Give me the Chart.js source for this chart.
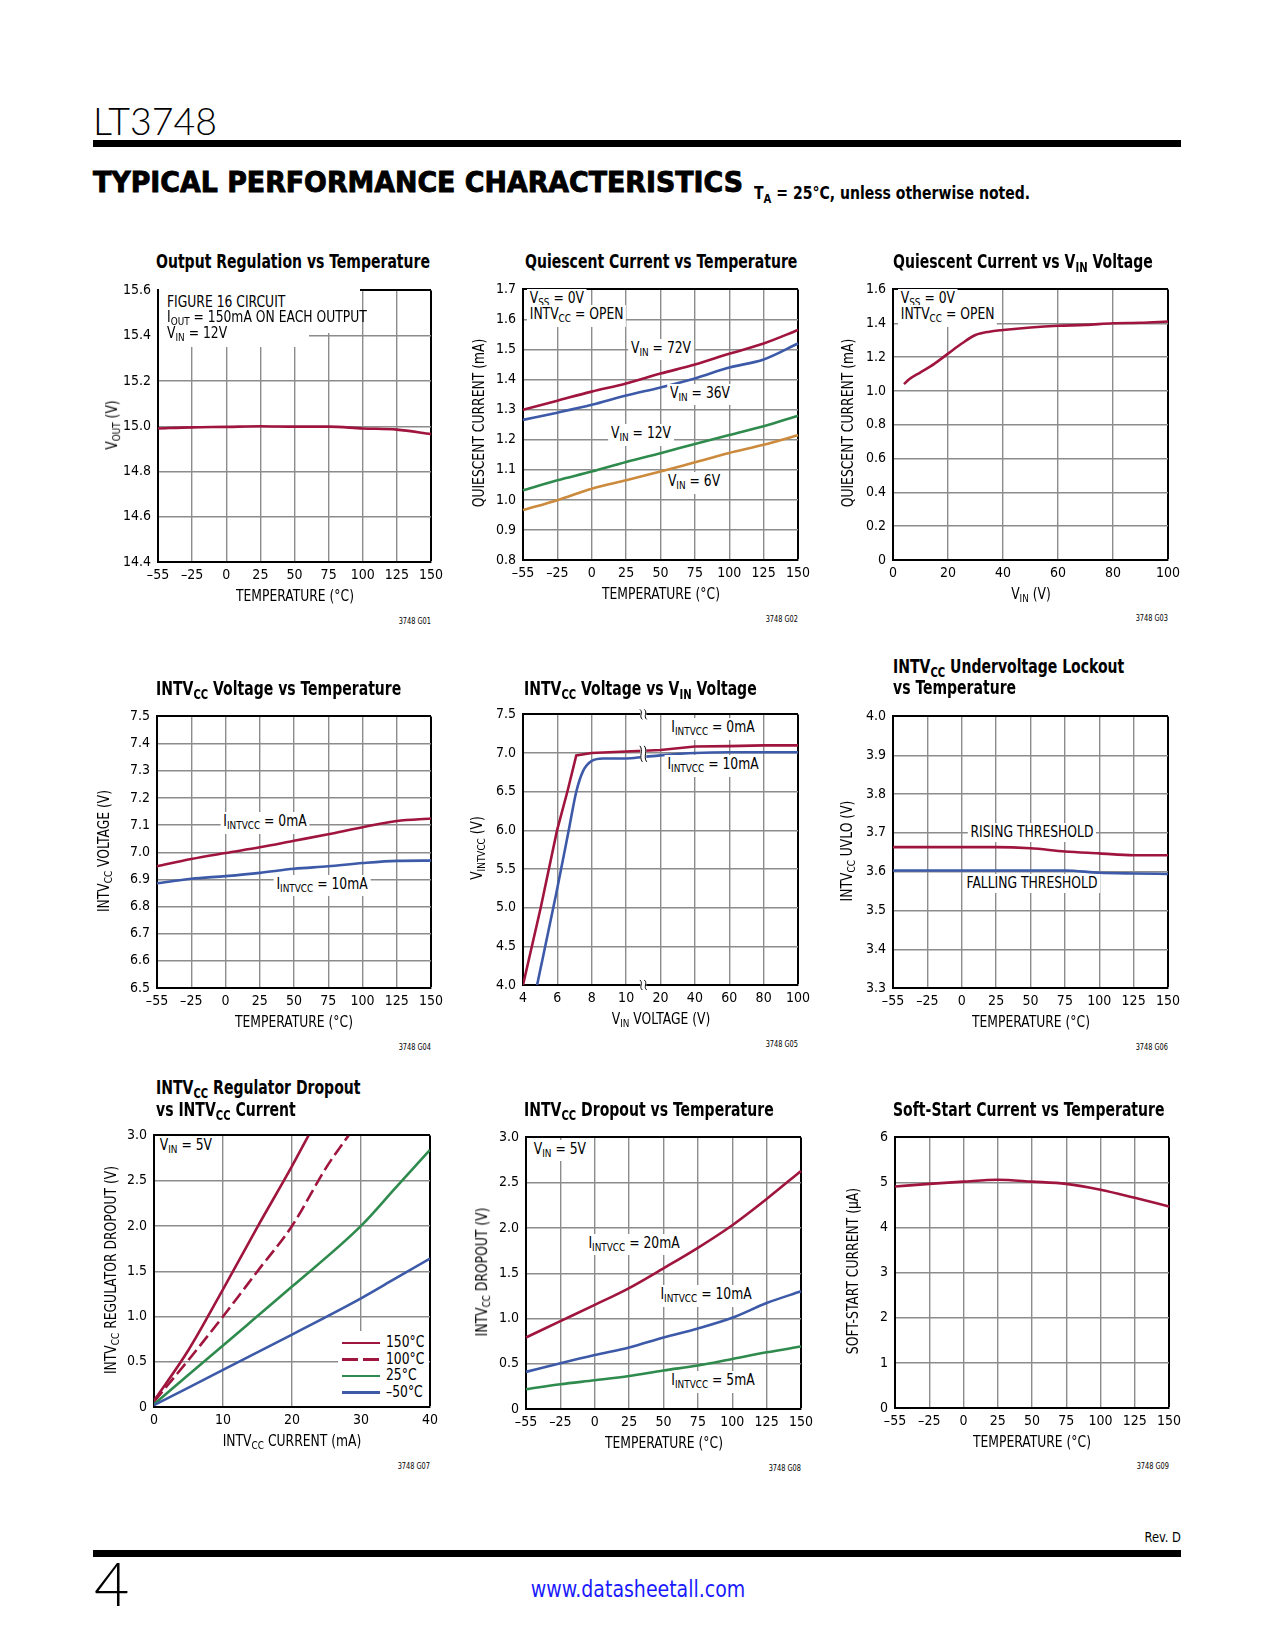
<!DOCTYPE html>
<html>
<head>
<meta charset="utf-8">
<title>LT3748 Typical Performance Characteristics</title>
<script src="https://cdn.jsdelivr.net/npm/chart.js@4.4.1/dist/chart.umd.min.js"></script>
<style>
  html, body { margin: 0; padding: 0; background: #fff; }
  #page {
    position: relative; width: 1275px; height: 1650px; overflow: hidden;
    font-family: "Liberation Sans Narrow", "Arial Narrow", "DejaVu Sans Condensed", sans-serif;
    color: #000;
  }
  .t { position: absolute; white-space: nowrap; line-height: 1; }
  .t sub { font-size: 0.72em; vertical-align: -0.28em; line-height: 1; }
  .blk { position: absolute; }
</style>
</head>
<body>
<div id="page"></div>
<script>
// ---- data ----
const TEMP_LABELS = ['–55', '–25', '0', '25', '50', '75', '100', '125', '150'];

// output regulation vs temperature
const VOUT = [14.99, 14.995, 14.997, 15.0, 14.998, 14.998, 14.99, 14.985, 14.965];

// quiescent current vs temperature (mA)
const IQ_72V = [1.30, 1.33, 1.36, 1.387, 1.42, 1.45, 1.486, 1.52, 1.565];
const IQ_36V = [1.266, 1.29, 1.316, 1.347, 1.374, 1.404, 1.44, 1.467, 1.52];
const IQ_12V = [1.032, 1.065, 1.094, 1.126, 1.155, 1.186, 1.216, 1.245, 1.28];
const IQ_6V = [0.966, 0.999, 1.037, 1.065, 1.094, 1.125, 1.156, 1.183, 1.215];

// quiescent current vs VIN
const VIN_SWEEP = [4, 6, 10, 15, 20, 25, 30, 35, 40, 50, 60, 70, 80, 90, 100];
const IQ_VS_VIN = [1.04, 1.07, 1.11, 1.16, 1.22, 1.28, 1.33, 1.35, 1.36, 1.375, 1.385, 1.39, 1.40, 1.403, 1.41];

// INTVCC voltage vs temperature
const INTVCC_0MA = [6.948, 6.975, 6.997, 7.018, 7.042, 7.066, 7.092, 7.115, 7.124];
const INTVCC_10MA = [6.885, 6.902, 6.912, 6.924, 6.939, 6.948, 6.96, 6.968, 6.969];

// INTVCC voltage vs VIN (broken axis: 4-10V, then 10-100V)
const VIN_TICKS = ['4', '6', '8', '10', '20', '40', '60', '80', '100'];
const LOW_VIN_0MA = [4, 5.03, 5.98, 6.58, 7.1, 8, 10];
const LOW_V_0MA = [4.0, 5.0, 6.0, 6.5, 6.97, 7.0, 7.02];
const LOW_VIN_10MA = [4.82, 5.94, 6.66, 7.1, 7.5, 8, 8.66, 10];
const LOW_V_10MA = [4.0, 5.19, 6.0, 6.5, 6.77, 6.9, 6.93, 6.93];
const HIGH_VIN = [10, 20, 40, 60, 80, 100];
const HIGH_V_0MA = [7.03, 7.04, 7.085, 7.09, 7.10, 7.10];
const HIGH_V_10MA = [6.95, 6.97, 7.0, 7.01, 7.01, 7.01];

// UVLO thresholds
const UVLO_RISE = [3.663, 3.663, 3.663, 3.663, 3.66, 3.652, 3.647, 3.642, 3.642];
const UVLO_FALL = [3.603, 3.603, 3.603, 3.603, 3.603, 3.603, 3.597, 3.595, 3.594];

// regulator dropout vs INTVCC current
const I_150C = [0, 5, 10, 15, 20, 22.4];
const DROP_150C = [0.07, 0.63, 1.3, 1.99, 2.66, 3.0];
const I_100C = [0, 5, 10, 15, 20, 25, 28.2];
const DROP_100C = [0.06, 0.52, 1.0, 1.5, 2.0, 2.65, 3.0];
const I_LOAD = [0, 10, 20, 30, 35, 40];
const DROP_25C = [0.03, 0.68, 1.33, 2.0, 2.42, 2.84];
const DROP_M50C = [0.02, 0.41, 0.8, 1.2, 1.42, 1.64];

// dropout vs temperature
const DROP_20MA = [0.79, 0.97, 1.15, 1.336, 1.554, 1.78, 2.03, 2.32, 2.63];
const DROP_10MA = [0.41, 0.506, 0.597, 0.68, 0.79, 0.89, 1.008, 1.17, 1.30];
const DROP_5MA = [0.218, 0.273, 0.317, 0.364, 0.426, 0.48, 0.553, 0.626, 0.69];

// soft-start current (uA)
const SS_CURRENT = [4.91, 4.97, 5.02, 5.06, 5.02, 4.97, 4.84, 4.66, 4.47];

// ---- styling ----
const NARROW = '"Liberation Sans Narrow", "Arial Narrow", "DejaVu Sans Condensed", sans-serif';
const HEAD = '"DejaVu Sans", sans-serif';
const RED = '#a0153e', BLUE = '#3d5aa9', GREEN = '#2f8b4d', ORANGE = '#cc8a3c';
const GRID = '#8c8c8c';
const PADL = 50, PADT = 12, PADR = 24, PADB = 30;

const page = document.getElementById('page');

// no narrow face is installed, so squeeze text horizontally to the datasheet widths
const mctx = document.createElement('canvas').getContext('2d');
const textW = (s, font) => { mctx.font = font; return mctx.measureText(s).width; };
const F_BOLD = 274 / textW('Output Regulation vs Temperature', 'bold 20px ' + NARROW);
const F_REG = 118 / textW('TEMPERATURE (°C)', '15px ' + NARROW);
const F_HEAD = 650 / textW('TYPICAL PERFORMANCE CHARACTERISTICS', 'bold 28px ' + HEAD);
const F_NOTE = 278 / textW('TA = 25°C, unless otherwise noted.', 'bold 18px ' + NARROW);

function put(html, x, y, o = {}) {
  const size = o.size || 15;
  const pad = o.bg ? 2 : 0;
  const f = o.f || (o.weight === 'bold' ? F_BOLD : F_REG);
  const d = document.createElement('div');
  d.className = 't';
  d.innerHTML = html;
  d.style.fontSize = size + 'px';
  d.style.fontWeight = o.weight || 'normal';
  if (o.family) d.style.fontFamily = o.family;
  if (o.color) d.style.color = o.color;
  if (o.stroke) d.style.webkitTextStroke = o.stroke;
  if (o.bg) { d.style.background = '#fff'; d.style.padding = pad + 'px 3px'; }
  const align = o.align || 'left';
  const shift = align === 'center' ? -50 : align === 'right' ? -100 : 0;
  let left = x;
  if (o.bg && align === 'left') left = x - 3 * f;
  if (o.bg && align === 'right') left = x + 3 * f;
  d.style.left = left + 'px';
  d.style.top = (y - (o.asc || 0.85) * size - pad) + 'px';
  d.style.transformOrigin = align + ' center';
  d.style.transform = 'translateX(' + shift + '%) scaleX(' + f + ')';
  page.appendChild(d);
  return d;
}

function rot(html, cx, cy, size = 15) {
  const d = document.createElement('div');
  d.className = 't';
  d.innerHTML = html;
  d.style.fontSize = size + 'px';
  d.style.left = cx + 'px';
  d.style.top = cy + 'px';
  d.style.transform = 'translate(-50%,-50%) rotate(-90deg) scaleX(' + F_REG + ')';
  page.appendChild(d);
}

function rect(l, t, w, h, bg) {
  const d = document.createElement('div');
  d.className = 'blk';
  d.style.cssText += `left:${l}px;top:${t}px;width:${w}px;height:${h}px;background:${bg};`;
  page.appendChild(d);
  return d;
}

const isLast = c => c.index === c.scale.ticks.length - 1;

function axis(which, extra = {}, tickExtra = {}) {
  return Object.assign({
    grid: {
      color: c => isLast(c) ? '#000' : GRID,
      lineWidth: c => isLast(c) ? 2 : 1.4,
      drawTicks: false,
    },
    border: { color: '#000', width: 2 },
    ticks: Object.assign({
      color: '#000',
      font: { family: NARROW, size: 14 },
      padding: which === 'x' ? 5 : 7,
      maxRotation: 0,
      autoSkip: false,
    }, tickExtra),
    afterFit: s => { if (which === 'x') s.height = PADB; else s.width = PADL; },
  }, extra);
}

const dec1 = v => Math.abs(v) < 1e-9 ? '0' : v.toFixed(1);

function plot(box, cfg) {
  const w = box.r - box.l, h = box.b - box.t;
  const wrap = document.createElement('div');
  wrap.style.cssText = `position:absolute;left:${box.l - PADL}px;top:${box.t - PADT}px;` +
    `width:${w + PADL + PADR}px;height:${h + PADT + PADB}px;`;
  const cv = document.createElement('canvas');
  wrap.appendChild(cv);
  page.appendChild(wrap);
  cfg.options = Object.assign({
    responsive: true,
    maintainAspectRatio: false,
    animation: false,
    layout: { padding: { top: PADT, right: PADR, left: 0, bottom: 0 } },
    elements: { point: { radius: 0 }, line: { borderWidth: 2.6, cubicInterpolationMode: 'monotone' } },
  }, cfg.options);
  cfg.options.plugins = { legend: { display: false }, tooltip: { enabled: false } };
  return new Chart(cv, cfg);
}

const line = (data, color, extra = {}) => Object.assign({ data, borderColor: color, fill: false }, extra);
const xy = (xs, ys, f = v => v) => xs.map((v, i) => ({ x: f(v), y: ys[i] }));

// ---- plot boxes (page pixels) ----
const B1 = { l: 158, r: 431, t: 287, b: 562 };
const B2 = { l: 523, r: 798, t: 286, b: 560 };
const B3 = { l: 893, r: 1168, t: 286, b: 560 };
const B4 = { l: 157, r: 431, t: 713, b: 988 };
const B5 = { l: 523, r: 798, t: 711, b: 985 };
const B6 = { l: 893, r: 1168, t: 713, b: 988 };
const B7 = { l: 154, r: 430, t: 1132, b: 1407 };
const B8 = { l: 526, r: 801, t: 1134, b: 1409 };
const B9 = { l: 895, r: 1169, t: 1134, b: 1408 };

// 1. Output regulation
plot(B1, {
  type: 'line',
  data: { labels: TEMP_LABELS, datasets: [line(VOUT, RED)] },
  options: { scales: { x: axis('x'), y: axis('y', { min: 14.4, max: 15.6 }, { stepSize: 0.2, callback: dec1 }) } },
});

// 2. Quiescent current vs temperature
plot(B2, {
  type: 'line',
  data: {
    labels: TEMP_LABELS,
    datasets: [line(IQ_72V, RED), line(IQ_36V, BLUE), line(IQ_12V, GREEN), line(IQ_6V, ORANGE)],
  },
  options: { scales: { x: axis('x'), y: axis('y', { min: 0.8, max: 1.7 }, { stepSize: 0.1, callback: dec1 }) } },
});

// 3. Quiescent current vs VIN
plot(B3, {
  type: 'line',
  data: { datasets: [line(xy(VIN_SWEEP, IQ_VS_VIN), RED)] },
  options: {
    scales: {
      x: axis('x', { type: 'linear', min: 0, max: 100 }, { stepSize: 20 }),
      y: axis('y', { min: 0, max: 1.6 }, { stepSize: 0.2, callback: dec1 }),
    },
  },
});

// 4. INTVCC voltage vs temperature
plot(B4, {
  type: 'line',
  data: { labels: TEMP_LABELS, datasets: [line(INTVCC_0MA, RED), line(INTVCC_10MA, BLUE)] },
  options: { scales: { x: axis('x'), y: axis('y', { min: 6.5, max: 7.5 }, { stepSize: 0.1, callback: dec1 }) } },
});

// 5. INTVCC voltage vs VIN, broken x axis
const lowPos = v => (v - 4) / 2;        // 4..10 V side of the break
const highPos = v => 4 + (v - 20) / 20; // 10..100 V side
const breakMarks = {
  id: 'breakMarks',
  afterDatasetsDraw(chart) {
    const { ctx, chartArea, scales } = chart;
    const x = scales.x.getPixelForValue(3.5);
    [[chartArea.top, 5], [scales.y.getPixelForValue(6.99), 8], [chartArea.bottom, 5]].forEach(([y, hh]) => {
      ctx.save();
      ctx.fillStyle = '#fff';
      ctx.fillRect(x - 3, y - hh, 6, hh * 2);
      ctx.strokeStyle = '#000';
      ctx.lineWidth = 1;
      [-2.2, 2.2].forEach(dx => {
        ctx.beginPath();
        ctx.moveTo(x + dx - 1.2, y - hh);
        ctx.bezierCurveTo(x + dx + 2.6, y - hh / 3, x + dx - 2.6, y + hh / 3, x + dx + 1.2, y + hh);
        ctx.stroke();
      });
      ctx.restore();
    });
  },
};
plot(B5, {
  type: 'line',
  data: {
    datasets: [
      line(xy(LOW_VIN_0MA, LOW_V_0MA, lowPos).concat(xy(HIGH_VIN, HIGH_V_0MA, highPos)), RED,
        { cubicInterpolationMode: 'default', tension: 0 }),
      line(xy(LOW_VIN_10MA, LOW_V_10MA, lowPos).concat(xy(HIGH_VIN, HIGH_V_10MA, highPos)), BLUE),
    ],
  },
  options: {
    scales: {
      x: axis('x', { type: 'linear', min: 0, max: 8 }, { stepSize: 1, callback: v => VIN_TICKS[v] ?? '' }),
      y: axis('y', { min: 4.0, max: 7.5 }, { stepSize: 0.5, callback: dec1 }),
    },
  },
  plugins: [breakMarks],
});

// 6. UVLO vs temperature
plot(B6, {
  type: 'line',
  data: { labels: TEMP_LABELS, datasets: [line(UVLO_RISE, RED), line(UVLO_FALL, BLUE)] },
  options: { scales: { x: axis('x'), y: axis('y', { min: 3.3, max: 4.0 }, { stepSize: 0.1, callback: dec1 }) } },
});

// 7. Regulator dropout vs INTVCC current
plot(B7, {
  type: 'line',
  data: {
    datasets: [
      line(xy(I_LOAD, DROP_M50C), BLUE),
      line(xy(I_LOAD, DROP_25C), GREEN),
      line(xy(I_100C, DROP_100C), RED, { borderDash: [13, 5] }),
      line(xy(I_150C, DROP_150C), RED),
    ],
  },
  options: {
    scales: {
      x: axis('x', { type: 'linear', min: 0, max: 40 }, { stepSize: 10 }),
      y: axis('y', { min: 0, max: 3 }, { stepSize: 0.5, callback: dec1 }),
    },
  },
});

// 8. Dropout vs temperature
plot(B8, {
  type: 'line',
  data: { labels: TEMP_LABELS, datasets: [line(DROP_20MA, RED), line(DROP_10MA, BLUE), line(DROP_5MA, GREEN)] },
  options: { scales: { x: axis('x'), y: axis('y', { min: 0, max: 3 }, { stepSize: 0.5, callback: dec1 }) } },
});

// 9. Soft-start current
plot(B9, {
  type: 'line',
  data: { labels: TEMP_LABELS, datasets: [line(SS_CURRENT, RED)] },
  options: { scales: { x: axis('x'), y: axis('y', { min: 0, max: 6 }, { stepSize: 1 }) } },
});

// ---- page header ----
put('LT3748', 93, 135, { size: 37.5, family: 'Lato', weight: 300, asc: 0.89, f: 1 });
rect(93, 140, 1088, 7, '#000');
put('TYPICAL PERFORMANCE CHARACTERISTICS', 93, 193,
  { size: 28, weight: 'bold', family: HEAD, f: F_HEAD, stroke: '0.9px #000' });
put('T<sub>A</sub> = 25°C, unless otherwise noted.', 754, 199, { size: 18, weight: 'bold', f: F_NOTE });

// ---- chart titles ----
const TB = { size: 20, weight: 'bold' };
put('Output Regulation vs Temperature', 156, 268.3, TB);
put('Quiescent Current vs Temperature', 525, 268.3, TB);
put('Quiescent Current vs V<sub>IN</sub> Voltage', 893, 268.3, TB);
put('INTV<sub>CC</sub> Voltage vs Temperature', 156, 694.5, TB);
put('INTV<sub>CC</sub> Voltage vs V<sub>IN</sub> Voltage', 523.5, 694.5, TB);
put('INTV<sub>CC</sub> Undervoltage Lockout', 893, 672.7, TB);
put('vs Temperature', 893, 694, TB);
put('INTV<sub>CC</sub> Regulator Dropout', 156, 1093.7, TB);
put('vs INTV<sub>CC</sub> Current', 156, 1115.7, TB);
put('INTV<sub>CC</sub> Dropout vs Temperature', 523.5, 1115.5, TB);
put('Soft-Start Current vs Temperature', 893, 1115.5, TB);

// ---- axis titles ----
const C = { align: 'center' };
const mid = b => (b.l + b.r) / 2, vmid = b => (b.t + b.b) / 2;
put('TEMPERATURE (°C)', mid(B1), B1.b + 40, C);
put('TEMPERATURE (°C)', mid(B2), B2.b + 40, C);
put('V<sub>IN</sub> (V)', mid(B3), B3.b + 40, C);
put('TEMPERATURE (°C)', mid(B4), B4.b + 40, C);
put('V<sub>IN</sub> VOLTAGE (V)', mid(B5), B5.b + 40, C);
put('TEMPERATURE (°C)', mid(B6), B6.b + 40, C);
put('INTV<sub>CC</sub> CURRENT (mA)', mid(B7), B7.b + 40, C);
put('TEMPERATURE (°C)', mid(B8), B8.b + 40, C);
put('TEMPERATURE (°C)', mid(B9), B9.b + 40, C);

rot('V<sub>OUT</sub> (V)', 113.5, vmid(B1));
rot('QUIESCENT CURRENT (mA)', 479, vmid(B2));
rot('QUIESCENT CURRENT (mA)', 848, vmid(B3));
rot('INTV<sub>CC</sub> VOLTAGE (V)', 105.5, vmid(B4));
rot('V<sub>INTVCC</sub> (V)', 479, vmid(B5));
rot('INTV<sub>CC</sub> UVLO (V)', 848.5, vmid(B6));
rot('INTV<sub>CC</sub> REGULATOR DROPOUT (V)', 113, vmid(B7));
rot('INTV<sub>CC</sub> DROPOUT (V)', 483.7, vmid(B8));
rot('SOFT-START CURRENT (μA)', 852.5, vmid(B9));

// ---- figure ids ----
const ID = { size: 8, align: 'right' };
put('3748 G01', B1.r, B1.b + 63, ID);
put('3748 G02', B2.r, B2.b + 63, ID);
put('3748 G03', B3.r, B3.b + 62, ID);
put('3748 G04', B4.r, B4.b + 63, ID);
put('3748 G05', B5.r, B5.b + 63, ID);
put('3748 G06', B6.r, B6.b + 63, ID);
put('3748 G07', B7.r, B7.b + 63, ID);
put('3748 G08', B8.r, B8.b + 63, ID);
put('3748 G09', B9.r, B9.b + 62, ID);

// ---- in-plot notes ----
const N = { bg: true };
const NC = { bg: true, align: 'center' };
rect(159, 288.5, 201, 44, '#fff');
rect(159, 332, 150, 15, '#fff');
put('FIGURE 16 CIRCUIT', 166.7, 307.7);
put('I<sub>OUT</sub> = 150mA ON EACH OUTPUT', 166.7, 322.7);
put('V<sub>IN</sub> = 12V', 166.7, 338.3);

put('V<sub>SS</sub> = 0V', 529.3, 303.3, N);
put('INTV<sub>CC</sub> = OPEN', 529.3, 320, N);
put('V<sub>IN</sub> = 72V', 661, 353.3, NC);
put('V<sub>IN</sub> = 36V', 699.8, 398.3, NC);
put('V<sub>IN</sub> = 12V', 641.3, 439, NC);
put('V<sub>IN</sub> = 6V', 694, 486.7, NC);

put('V<sub>SS</sub> = 0V', 901, 303.3, N);
put('INTV<sub>CC</sub> = OPEN', 901, 320, N);

put('I<sub>INTVCC</sub> = 0mA', 264.7, 827, NC);
put('I<sub>INTVCC</sub> = 10mA', 322, 889.3, NC);

put('I<sub>INTVCC</sub> = 0mA', 712.5, 732.7, NC);
put('I<sub>INTVCC</sub> = 10mA', 712.7, 770, NC);

put('RISING THRESHOLD', 1032.2, 837.3, NC);
put('FALLING THRESHOLD', 1031.8, 888.7, NC);

put('V<sub>IN</sub> = 5V', 159.3, 1151, N);
// legend box for chart 7
rect(338, 1331, 91, 75, '#fff');
const LEG = [['150°C', RED, false], ['100°C', RED, true], ['25°C', GREEN, false], ['–50°C', BLUE, false]];
LEG.forEach(([txt, col, dashed], i) => {
  const base = 1348 + i * 16.5;
  const s = rect(341.7, base - 6.3, 38, 2.6, col);
  if (dashed) s.style.background = `repeating-linear-gradient(90deg, ${col} 0 16px, transparent 16px 21px)`;
  put(txt, 386, base);
});

put('V<sub>IN</sub> = 5V', 533.3, 1154.3, N);
put('I<sub>INTVCC</sub> = 20mA', 634.3, 1248.3, NC);
put('I<sub>INTVCC</sub> = 10mA', 705.8, 1300, NC);
put('I<sub>INTVCC</sub> = 5mA', 712.5, 1385.7, NC);

// ---- footer ----
put('Rev. D', 1181, 1541.7, { size: 14, align: 'right' });
rect(93, 1550, 1088, 7, '#000');
put('4', 94, 1606.7, { size: 61, family: 'Lato', weight: 300, asc: 0.89, f: 1 });
put('www.datasheetall.com', 638, 1598, { size: 23, align: 'center', color: '#1a1aff' });
</script>
</body>
</html>
